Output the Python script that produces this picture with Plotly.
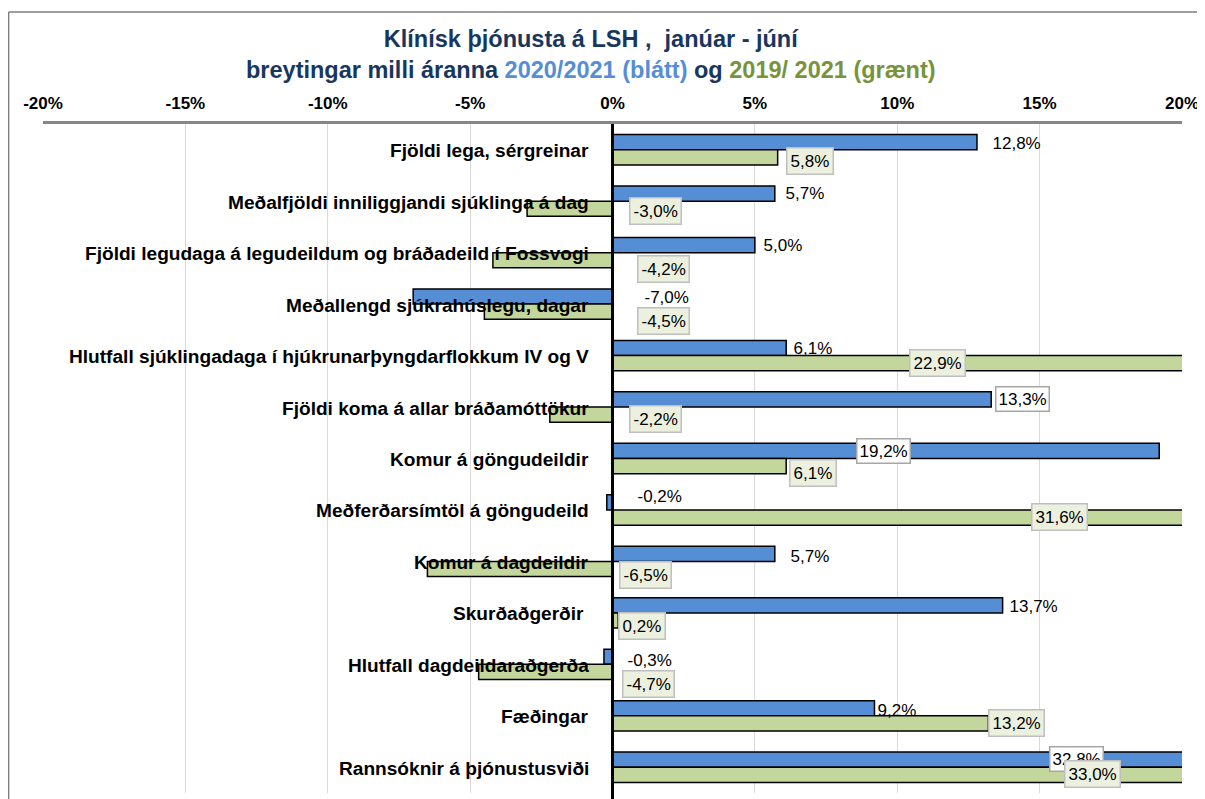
import plotly.graph_objects as go

categories = [
    "Fjöldi lega, sérgreinar",
    "Meðalfjöldi inniliggjandi sjúklinga á dag",
    "Fjöldi legudaga á legudeildum og bráðadeild í Fossvogi",
    "Meðallengd sjúkrahúslegu, dagar",
    "Hlutfall sjúklingadaga í hjúkrunarþyngdarflokkum IV og V",
    "Fjöldi koma á allar bráðamóttökur",
    "Komur á göngudeildir",
    "Meðferðarsímtöl á göngudeild",
    "Komur á dagdeildir",
    "Skurðaðgerðir ",
    "Hlutfall dagdeildaraðgerða",
    "Fæðingar",
    "Rannsóknir á þjónustusviði",
]
blue_2020_2021 = [12.8, 5.7, 5.0, -7.0, 6.1, 13.3, 19.2, -0.2, 5.7, 13.7, -0.3, 9.2, 32.8]
green_2019_2021 = [5.8, -3.0, -4.2, -4.5, 22.9, -2.2, 6.1, 31.6, -6.5, 0.2, -4.7, 13.2, 33.0]
tick_vals = [-20, -15, -10, -5, 0, 5, 10, 15, 20]
tick_text = ["-20%", "-15%", "-10%", "-5%", "0%", "5%", "10%", "15%", "20%"]

# label placement (layout only): centre x in axis units, vertical shift in px
blue_label_x = [14.2, 6.75, 6.0, 1.9, 7.05, 14.4, 9.5, 1.65, 6.95, 14.8, 1.3, 10.0, 16.3]
blue_label_dy = [7, 8, 8, 7, 8, 8, 8, 14, 5, 7, 4, 6, 8]
blue_label_box = ["none", "none", "none", "none", "none", "box", "box", "white", "none", "none", "none", "none", "box"]
green_label_x = [6.95, 1.5, 1.8, 1.8, 11.4, 1.5, 7.05, 15.7, 1.15, 1.05, 1.25, 14.2, 16.85]
green_label_dy = [-11, -10, -16, -17, -7, -12, -14, -7, -14, -13, -20, -7, -7]

BLUE = "#558ED5"
GREEN = "#C3D69B"
FONT = "Liberation Sans, Arial, sans-serif"

# page body has a small margin; figure geometry compensates for it
W, H = 1197, 791
L, R, T, B = 35, 18, 116, 6
pw, ph = W - L - R, H - T - B

fig = go.Figure()
fig.add_trace(go.Bar(y=categories, x=blue_2020_2021, orientation="h", name="2020/2021",
                     marker=dict(color=BLUE, line=dict(color="black", width=1.5))))
fig.add_trace(go.Bar(y=categories, x=green_2019_2021, orientation="h", name="2019/2021",
                     marker=dict(color=GREEN, line=dict(color="black", width=1.5))))

def pct(v):
    return f"{v:.1f}%".replace(".", ",")

ann = []
for i, c in enumerate(categories):
    ann.append(dict(x=0, y=c, xref="x", yref="y", text=f"<b>{c}</b>", showarrow=False,
                    xanchor="right", xshift=-22, yshift=-1,
                    font=dict(family=FONT, size=19.1, color="black")))
for i, c in enumerate(categories):
    kind = blue_label_box[i]
    bg = "white" if kind in ("box", "white") else "rgba(0,0,0,0)"
    bc = "#A6A6A6" if kind == "box" else "rgba(0,0,0,0)"
    ann.append(dict(x=blue_label_x[i], y=c, xref="x", yref="y", text=pct(blue_2020_2021[i]),
                    showarrow=False, xanchor="center", yshift=blue_label_dy[i],
                    bgcolor=bg, bordercolor=bc, borderwidth=1.5, borderpad=2,
                    font=dict(family=FONT, size=17, color="black")))
    ann.append(dict(x=green_label_x[i], y=c, xref="x", yref="y", text=pct(green_2019_2021[i]),
                    showarrow=False, xanchor="center", yshift=green_label_dy[i],
                    bgcolor="#EBF1DE", bordercolor="#BFBFBF", borderwidth=1.5, borderpad=3,
                    font=dict(family=FONT, size=17, color="black")))

ann.append(dict(
    x=(585 - L) / pw, y=1 + (T - 46) / ph, xref="paper", yref="paper", showarrow=False,
    xanchor="center", yanchor="middle",
    text=("<b>Klínísk þjónusta á LSH ,  janúar - júní<br>"
          "breytingar milli áranna <span style='color:#558ED5'>2020/2021 (blátt)</span> og "
          "<span style='color:#77933C'>2019/ 2021 (grænt)</span></b>"),
    font=dict(family=FONT, size=23.5, color="#17375E"), align="center",
))

shapes = [
    dict(type="line", xref="x", yref="paper", x0=0, x1=0, y0=-B / ph, y1=1,
         line=dict(color="black", width=3), layer="above"),
    dict(type="line", xref="paper", yref="paper", x0=(0.5 - L) / pw, x1=(W - L) / pw,
         y0=1 + (T - 4) / ph, y1=1 + (T - 4) / ph, line=dict(color="#7F7F7F", width=1.5)),
    dict(type="line", xref="paper", yref="paper", x0=(0.5 - L) / pw, x1=(0.5 - L) / pw,
         y0=1 + (T - 4) / ph, y1=-B / ph, line=dict(color="#7F7F7F", width=1.5)),
]

fig.update_layout(
    width=W, height=H,
    margin=dict(l=L, r=R, t=T, b=B),
    paper_bgcolor="white", plot_bgcolor="white",
    barmode="group", bargap=0.41, bargroupgap=0,
    showlegend=False,
    annotations=ann, shapes=shapes,
    font=dict(family=FONT),
)
fig.update_xaxes(range=[-20, 20], side="top", tickvals=tick_vals, ticktext=tick_text,
                 tickfont=dict(family=FONT, size=17, color="black", weight="bold"),
                 showgrid=True, gridcolor="#D9D9D9", gridwidth=1,
                 showline=True, linecolor="#868686", linewidth=2.5,
                 zeroline=False, ticks="", ticklabelstandoff=5)
fig.update_yaxes(autorange="reversed", showticklabels=False, showgrid=False, zeroline=False,
                 showline=False, ticks="")

fig.write_html("out.html")
